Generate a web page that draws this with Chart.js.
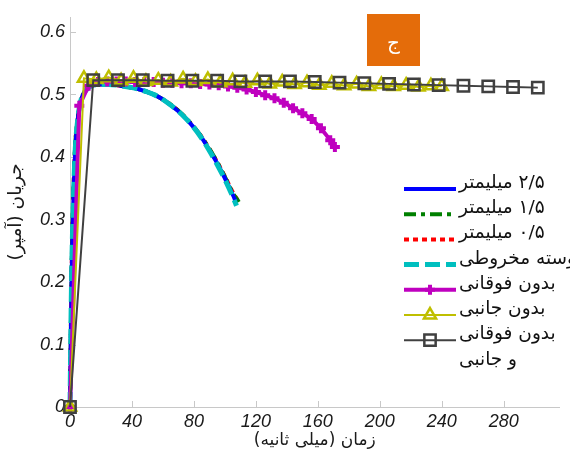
<!DOCTYPE html>
<html>
<head>
<meta charset="utf-8">
<script src="https://cdn.jsdelivr.net/npm/chart.js@4.4.1/dist/chart.umd.min.js"></script>
<style>
  html, body { margin: 0; padding: 0; background: #fff; }
  #wrap { width: 570px; height: 456px; }
</style>
</head>
<body>
<div id="wrap"><canvas id="currentChart" width="570" height="456"></canvas></div>
<script>
// زمان (ms) و جریان (A) برای هر حالت
const t25 = [0, 1, 3, 5, 7, 10, 14, 20, 25, 30, 35, 40, 45, 50, 55, 60, 65, 70, 75, 80, 85, 90, 95, 100, 105, 107];
const i25 = [0, 0.20, 0.39, 0.46, 0.49, 0.506, 0.514, 0.516, 0.516, 0.515, 0.513, 0.511, 0.508, 0.504, 0.499, 0.492, 0.483, 0.473, 0.461, 0.447, 0.431, 0.411, 0.390, 0.366, 0.340, 0.329];

const t15 = [0, 1, 3, 5, 7, 10, 14, 20, 25, 30, 35, 40, 45, 50, 55, 60, 65, 70, 75, 80, 85, 90, 95, 100, 105, 109];
const i15 = [0, 0.21, 0.40, 0.46, 0.49, 0.506, 0.514, 0.516, 0.516, 0.515, 0.513, 0.511, 0.508, 0.504, 0.499, 0.492, 0.484, 0.474, 0.462, 0.448, 0.432, 0.413, 0.392, 0.368, 0.343, 0.328];

const t05 = [0, 1, 3, 5, 7, 10, 14, 20, 25, 30, 35, 40, 45, 50, 55, 60, 65, 70, 75, 80, 85, 90, 95, 100, 105, 109.5];
const i05 = [0, 0.21, 0.40, 0.46, 0.49, 0.506, 0.514, 0.516, 0.516, 0.515, 0.513, 0.511, 0.508, 0.504, 0.499, 0.492, 0.484, 0.474, 0.462, 0.448, 0.432, 0.413, 0.392, 0.369, 0.344, 0.326];

const tCone = [0, 1, 3, 5, 7, 10, 14, 20, 25, 30, 35, 40, 45, 50, 55, 60, 65, 70, 75, 80, 85, 90, 95, 100, 105, 107.5];
const iCone = [0, 0.20, 0.39, 0.46, 0.49, 0.506, 0.514, 0.516, 0.516, 0.515, 0.513, 0.511, 0.508, 0.504, 0.499, 0.492, 0.483, 0.473, 0.461, 0.447, 0.430, 0.410, 0.388, 0.364, 0.337, 0.322];

const tNoTop = [0, 6, 12, 18, 24, 30, 36, 42, 48, 54, 60, 66, 72, 78, 84, 90, 96, 102, 108, 114, 120, 126, 132, 138, 144, 150, 156, 162, 168, 171];
const iNoTop = [0, 0.482, 0.514, 0.520, 0.521, 0.521, 0.521, 0.520, 0.520, 0.520, 0.519, 0.519, 0.518, 0.518, 0.517, 0.516, 0.515, 0.513, 0.511, 0.508, 0.504, 0.499, 0.494, 0.487, 0.478, 0.470, 0.461, 0.446, 0.427, 0.416];

const tNoSide = [0, 9, 17, 25, 33, 41, 49, 57, 65, 73, 81, 89, 97, 105, 113, 121, 129, 137, 145, 153, 161, 169, 177, 185, 193, 201, 209, 217, 225, 233, 240];
const iNoSide = [0, 0.526, 0.524, 0.527, 0.522, 0.526, 0.521, 0.523, 0.520, 0.525, 0.521, 0.524, 0.519, 0.522, 0.518, 0.522, 0.517, 0.520, 0.516, 0.519, 0.515, 0.518, 0.514, 0.517, 0.513, 0.516, 0.513, 0.515, 0.512, 0.514, 0.513];

const tNoBoth = [0, 15, 31, 47, 63, 79, 95, 110, 126, 142, 158, 174, 190, 206, 222, 238, 254, 270, 286, 302];
const iNoBoth = [0, 0.523, 0.523, 0.523, 0.522, 0.522, 0.522, 0.521, 0.521, 0.521, 0.520, 0.519, 0.518, 0.517, 0.516, 0.515, 0.514, 0.513, 0.512, 0.511];

const seriesLabels = ['۲/۵ میلیمتر', '۱/۵ میلیمتر', '۰/۵ میلیمتر', 'پوسته مخروطی', 'بدون فوقانی', 'بدون جانبی', 'بدون فوقانی\nو جانبی'];
const xTicks = [0, 40, 80, 120, 160, 200, 240, 280];
const yTicks = [0, 0.1, 0.2, 0.3, 0.4, 0.5, 0.6];
const yTickLabels = ['0', '0.1', '0.2', '0.3', '0.4', '0.5', '0.6'];

const pts = (xs, ys) => xs.map((x, k) => ({ x: x, y: ys[k] }));

const arabicFont = '"DejaVu Sans", sans-serif';
const tickFont = { family: '"Liberation Sans", Arial, sans-serif', size: 18, style: 'italic' };

// small inward tick marks on both axes
const innerTicks = {
  id: 'innerTicks',
  beforeDatasetsDraw(chart) {
    const { ctx, chartArea, scales } = chart;
    ctx.save();
    ctx.strokeStyle = '#c8c8c8';
    ctx.lineWidth = 1;
    ctx.beginPath();
    xTicks.forEach(v => {
      const x = Math.round(scales.x.getPixelForValue(v)) + 0.5;
      ctx.moveTo(x, chartArea.bottom);
      ctx.lineTo(x, chartArea.bottom - 6);
    });
    yTicks.forEach(v => {
      const y = Math.round(scales.y.getPixelForValue(v)) + 0.5;
      ctx.moveTo(chartArea.left, y);
      ctx.lineTo(chartArea.left + 6, y);
    });
    ctx.stroke();
    ctx.restore();
  }
};

// legend on the right and the panel tag
const sideLegend = {
  id: 'sideLegend',
  afterDraw(chart) {
    const { ctx } = chart;
    ctx.save();
    // panel tag
    ctx.fillStyle = '#e46c0a';
    ctx.fillRect(367, 14, 53, 52);
    ctx.fillStyle = '#ffffff';
    ctx.font = '20px ' + arabicFont;
    ctx.textAlign = 'center';
    ctx.textBaseline = 'middle';
    ctx.fillText('ج', 393.5, 44);

    const x0 = 404, x1 = 456, top = 189, gap = 25.2;
    chart.data.datasets.forEach((ds, k) => {
      const y = top + k * gap;
      ctx.save();
      ctx.strokeStyle = ds.borderColor;
      ctx.lineWidth = ds.borderWidth;
      ctx.setLineDash(ds.borderDash || []);
      ctx.beginPath();
      ctx.moveTo(x0, y);
      ctx.lineTo(x1, y);
      ctx.stroke();
      ctx.setLineDash([]);
      if (ds.pointRadius > 0) {
        ctx.fillStyle = ds.pointBackgroundColor;
        ctx.strokeStyle = ds.pointBorderColor;
        ctx.lineWidth = ds.pointBorderWidth;
        Chart.helpers.drawPoint(ctx, {
          pointStyle: ds.pointStyle, radius: ds.pointRadius, rotation: 0, borderWidth: ds.pointBorderWidth
        }, (x0 + x1) / 2, y);
      }
      ctx.restore();
      ctx.fillStyle = '#111';
      ctx.font = '18.5px ' + arabicFont;
      ctx.direction = 'rtl';
      ctx.textAlign = 'left';
      ctx.textBaseline = 'alphabetic';
      seriesLabels[k].split('\n').forEach((line, j) => {
        ctx.fillText(line, 459, y - 1 + j * 26);
      });
    });
    ctx.restore();
  }
};

const curve = (label, xs, ys, color, width, dash, order) => ({
  label: label,
  data: pts(xs, ys),
  borderColor: color,
  backgroundColor: color,
  borderWidth: width,
  borderDash: dash,
  pointRadius: 0,
  cubicInterpolationMode: 'monotone',
  clip: false,
  order: order
});

const marked = (label, xs, ys, color, width, style, radius, markWidth, fill, order) => ({
  label: label,
  data: pts(xs, ys),
  borderColor: color,
  backgroundColor: color,
  borderWidth: width,
  borderDash: [],
  pointStyle: style,
  pointRadius: radius,
  pointBorderWidth: markWidth,
  pointBorderColor: color,
  pointBackgroundColor: fill,
  clip: false,
  order: order
});

new Chart(document.getElementById('currentChart'), {
  type: 'line',
  data: {
    datasets: [
      curve(seriesLabels[0], t25, i25, '#0000ff', 4, [], 4),
      curve(seriesLabels[1], t15, i15, '#008000', 4, [12, 5, 4, 5], 5),
      curve(seriesLabels[2], t05, i05, '#ff0000', 4, [5, 4], 6),
      curve(seriesLabels[3], tCone, iCone, '#00bfbf', 5, [15, 6], 3),
      marked(seriesLabels[4], tNoTop, iNoTop, '#bf00bf', 4, 'cross', 5, 4, '#bf00bf', 2),
      marked(seriesLabels[5], tNoSide, iNoSide, '#bfbf00', 2, 'triangle', 7, 2.5, 'rgba(255,255,255,0)', 1),
      marked(seriesLabels[6], tNoBoth, iNoBoth, '#404040', 2, 'rect', 8, 2.5, 'rgba(255,255,255,0)', 0)
    ]
  },
  options: {
    responsive: false,
    animation: false,
    layout: { padding: { top: 17, right: 0, left: 0, bottom: 0 } },
    plugins: { legend: { display: false }, tooltip: { enabled: false } },
    scales: {
      x: {
        type: 'linear',
        min: 0,
        max: 316,
        afterBuildTicks: s => { s.ticks = xTicks.map(v => ({ value: v })); },
        afterFit: s => { s.height = 49; },
        grid: { display: false, drawTicks: false },
        border: { display: true, color: '#c8c8c8', width: 1 },
        ticks: { color: '#1a1a1a', font: tickFont, padding: 4, maxRotation: 0, callback: v => String(v) },
        title: {
          display: true,
          text: '\u200Fزمان (میلی ثانیه)\u200F',
          color: '#1a1a1a',
          font: { family: arabicFont, size: 17 },
          padding: { top: 0, bottom: 5 }
        }
      },
      y: {
        type: 'linear',
        min: 0,
        max: 0.624,
        afterBuildTicks: s => { s.ticks = yTicks.map(v => ({ value: v })); },
        afterFit: s => { s.width = 70; },
        grid: { display: false, drawTicks: false },
        border: { display: true, color: '#c8c8c8', width: 1 },
        ticks: { color: '#1a1a1a', font: tickFont, padding: 5, callback: (v, k) => yTickLabels[k] },
        title: {
          display: true,
          text: '\u200Fجریان (آمپر)\u200F',
          color: '#1a1a1a',
          font: { family: arabicFont, size: 18.5 },
          padding: { top: 5, bottom: 0 }
        }
      }
    }
  },
  plugins: [innerTicks, sideLegend]
});
</script>
</body>
</html>
